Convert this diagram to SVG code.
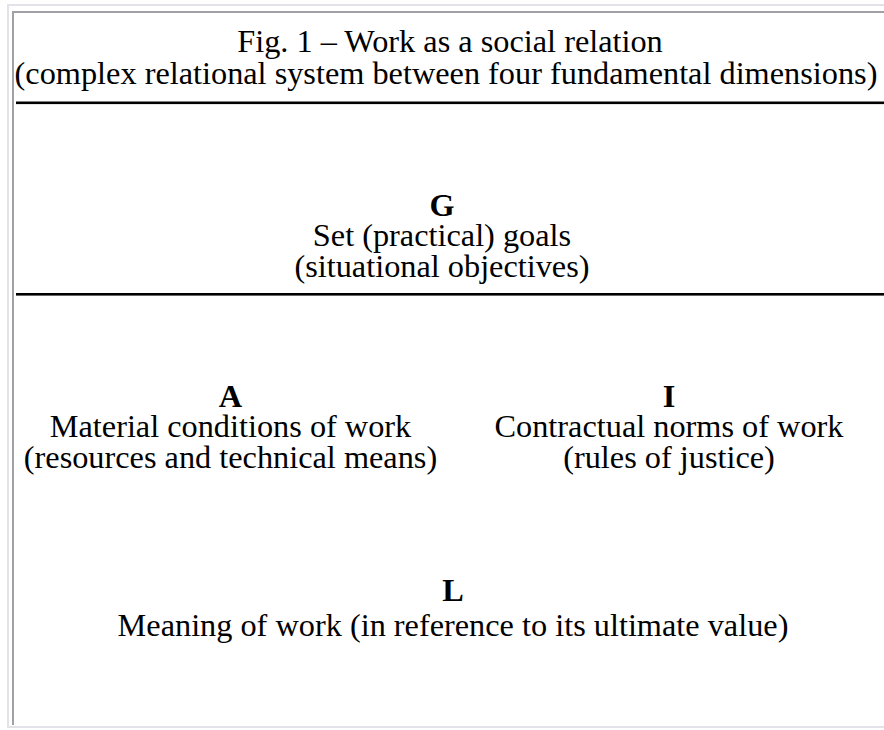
<svg xmlns="http://www.w3.org/2000/svg" width="884" height="730" viewBox="0 0 884 730">
<style>
.t{font-family:"Liberation Serif","Times New Roman",serif;font-size:32.3px;fill:#000;text-anchor:middle}
.b{font-weight:bold}
</style>
<rect x="0" y="0" width="884" height="730" fill="#fff"/>
<g id="frame">
<rect x="7" y="4" width="877" height="2" fill="#e2e2e8"/>
<rect x="7" y="4" width="2" height="724" fill="#e2e2e8"/>
<rect x="7" y="726" width="877" height="2" fill="#e2e2e8"/>
<rect x="12" y="11" width="872" height="2" fill="#a0a0a6"/>
<rect x="12" y="11" width="2" height="714" fill="#a0a0a6"/>
<rect x="16" y="101.5" width="868" height="2.6" fill="#000"/>
<rect x="16" y="293" width="868" height="2.6" fill="#000"/>
</g>
<g id="title">
<text class="t" x="450" y="52">Fig. 1 – Work as a social relation</text>
<text class="t" x="446" y="84">(complex relational system between four fundamental dimensions)</text>
</g>
<g id="node-G">
<text class="t b" x="442" y="216">G</text>
<text class="t" x="442" y="246">Set (practical) goals</text>
<text class="t" x="442" y="277">(situational objectives)</text>
</g>
<g id="node-A">
<text class="t b" x="230.5" y="407">A</text>
<text class="t" x="230.5" y="437">Material conditions of work</text>
<text class="t" x="230.5" y="468">(resources and technical means)</text>
</g>
<g id="node-I">
<text class="t b" x="669" y="407">I</text>
<text class="t" x="669" y="437">Contractual norms of work</text>
<text class="t" x="669" y="468">(rules of justice)</text>
</g>
<g id="node-L">
<text class="t b" x="453" y="601">L</text>
<text class="t" x="453" y="636">Meaning of work (in reference to its ultimate value)</text>
</g>
<g id="connectors"></g>
</svg>
